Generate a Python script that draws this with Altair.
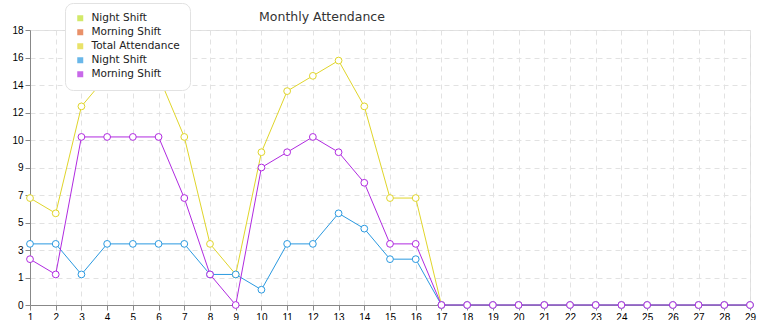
import altair as alt
import pandas as pd

days = list(range(1, 30))
total_attendance = [7, 6, 13, 15, 15, 15, 11, 4, 2, 10, 14, 15, 16, 13, 7, 7,
                    0, 0, 0, 0, 0, 0, 0, 0, 0, 0, 0, 0, 0]
night_shift = [4, 4, 2, 4, 4, 4, 4, 2, 2, 1, 4, 4, 6, 5, 3, 3,
               0, 0, 0, 0, 0, 0, 0, 0, 0, 0, 0, 0, 0]
morning_shift = [3, 2, 11, 11, 11, 11, 7, 2, 0, 9, 10, 11, 10, 8, 4, 4,
                 0, 0, 0, 0, 0, 0, 0, 0, 0, 0, 0, 0, 0]

y_ticks = [0, 1.8, 3.6, 5.4, 7.2, 9, 10.8, 12.6, 14.4, 16.2, 18]

legend_names = ["Night Shift ", "Morning Shift ", "Total Attendance", "Night Shift", "Morning Shift"]
legend_colors = ["#bfe02a", "#e0622a", "#e0d52a", "#2a99e0", "#b02ae0"]

series = [("Total Attendance", total_attendance),
          ("Night Shift", night_shift),
          ("Morning Shift", morning_shift)]

rows = []
for name, vals in series:
    for d, v in zip(days, vals):
        rows.append({"day": d, "value": v, "series": name})
df = pd.DataFrame(rows)

x_enc = alt.X("day:Q", scale=alt.Scale(domain=[1, 29], nice=False, zero=False),
              axis=alt.Axis(values=days, title=None, format="d", labelFlush=False,
                            gridDash=[5, 4], gridColor="#e2e2e2"))
y_enc = alt.Y("value:Q", scale=alt.Scale(domain=[0, 18], nice=False),
              axis=alt.Axis(values=y_ticks, title=None, labelExpr="floor(datum.value + 0.0001)",
                            gridDash=[5, 4], gridColor="#e2e2e2"))
color_enc = alt.Color(
    "series:N",
    scale=alt.Scale(domain=legend_names, range=legend_colors),
    legend=alt.Legend(title=None, orient="none", legendX=35, legendY=-27,
                      fillColor="white", strokeColor="#e2e2e2", cornerRadius=8,
                      padding=10, symbolType="square", symbolSize=36,
                      symbolStrokeWidth=0, labelFontSize=10.5, labelFont="DejaVu Sans",
                      labelColor="#222222", rowPadding=3, labelOffset=6),
)

base = alt.Chart(df)

legend_layer = base.mark_square(filled=True, size=36).encode(
    x=x_enc, y=y_enc, color=color_enc
).transform_filter("datum.value < -1")

layers = [legend_layer]
for name, _ in series:
    sub = base.transform_filter(alt.datum.series == name)
    layers.append(sub.mark_line(strokeWidth=1).encode(x=x_enc, y=y_enc, color=color_enc))
    layers.append(sub.mark_point(filled=False, fill="white", size=46, strokeWidth=1, opacity=1)
                  .encode(x=x_enc, y=y_enc, color=color_enc))

chart = alt.layer(*layers).properties(
    width=720, height=275,
    title=alt.TitleParams("Monthly Attendance", anchor="middle", dx=-68, offset=-21,
                          fontSize=12.5, font="DejaVu Sans", fontWeight="normal", color="#333333"),
    autosize=alt.AutoSizeParams(type="none"),
    padding={"left": 30, "top": 30, "right": 15, "bottom": 15},
).configure_view(
    fill="#f6f6f6", stroke="#e4e4e4"
).configure_axis(
    domainColor="#999999", tickColor="#999999", tickSize=5,
    gridColor="#e2e2e2", gridDash=[5, 4], labelColor="#999999",
    labelFont="DejaVu Sans", labelFontSize=10, labelPadding=2,
).configure(background="white")

chart.save("out.html", embed_options={"renderer": "svg", "actions": False})
